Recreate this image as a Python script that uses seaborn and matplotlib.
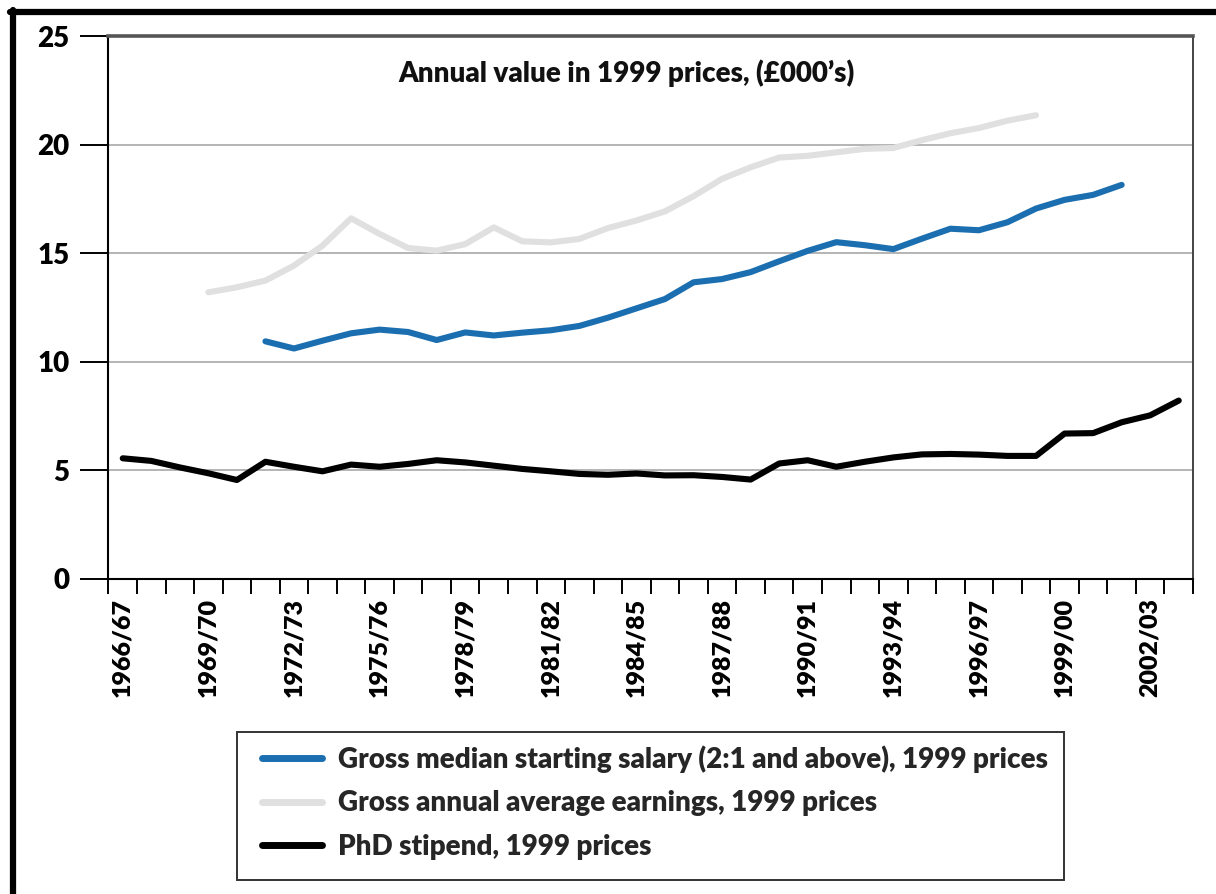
import numpy as np
import pandas as pd
import matplotlib
matplotlib.use("Agg")
import matplotlib.pyplot as plt
import seaborn as sns
from matplotlib.lines import Line2D
from matplotlib.patches import Rectangle

nan = np.nan

# academic years on the category axis
years = ["1966/67", "1967/68", "1968/69", "1969/70", "1970/71", "1971/72", "1972/73",
         "1973/74", "1974/75", "1975/76", "1976/77", "1977/78", "1978/79", "1979/80",
         "1980/81", "1981/82", "1982/83", "1983/84", "1984/85", "1985/86", "1986/87",
         "1987/88", "1988/89", "1989/90", "1990/91", "1991/92", "1992/93", "1993/94",
         "1994/95", "1995/96", "1996/97", "1997/98", "1998/99", "1999/00", "2000/01",
         "2001/02", "2002/03", "2003/04"]

# values in £000's, 1999 prices
salary = [nan, nan, nan, nan, nan, 10.93, 10.60, 10.96, 11.30, 11.47,
          11.36, 10.99, 11.34, 11.20, 11.33, 11.44, 11.64, 12.02, 12.45, 12.88,
          13.65, 13.80, 14.12, 14.62, 15.10, 15.50, 15.36, 15.18, 15.66, 16.12,
          16.05, 16.42, 17.05, 17.45, 17.68, 18.14, nan, nan]
earnings = [nan, nan, nan, 13.19, 13.42, 13.73, 14.42, 15.34, 16.60, 15.88,
            15.23, 15.11, 15.41, 16.18, 15.54, 15.49, 15.65, 16.15, 16.50, 16.92,
            17.62, 18.42, 18.95, 19.40, 19.48, 19.64, 19.80, 19.84, 20.20, 20.52,
            20.76, 21.10, 21.35, nan, nan, nan, nan, nan]
stipend = [5.54, 5.42, 5.12, 4.85, 4.54, 5.38, 5.15, 4.94, 5.25, 5.15,
           5.28, 5.45, 5.35, 5.20, 5.05, 4.94, 4.82, 4.78, 4.84, 4.75,
           4.76, 4.68, 4.56, 5.30, 5.45, 5.15, 5.38, 5.58, 5.72, 5.74,
           5.71, 5.65, 5.65, 6.68, 6.70, 7.20, 7.52, 8.20]

series_names = ["Gross median starting salary (2:1 and above), 1999 prices",
                "Gross annual average earnings, 1999 prices",
                "PhD stipend, 1999 prices"]
series_colors = ["#1b6fb0", "#e0e0e0", "#000000"]

y_ticks = [0, 5, 10, 15, 20, 25]
label_every = 3

# build a long table for seaborn
frames = []
for name, vals in zip(series_names, [salary, earnings, stipend]):
    frames.append(pd.DataFrame({"idx": np.arange(len(years)), "value": vals, "series": name}))
df = pd.concat(frames).dropna()

sns.set_theme(style="white")
plt.rcParams["font.family"] = ["Lato", "DejaVu Sans"]

fig = plt.figure(figsize=(12.16, 8.94), dpi=100)
ax = fig.add_axes([0.0892, 0.3529, 0.8919, 0.6068])

sns.lineplot(data=df, x="idx", y="value", hue="series", hue_order=series_names,
             palette=series_colors, linewidth=4.4, sort=False, ax=ax, legend=False)

ax.set_xlim(-0.5, len(years) - 0.5)
ax.set_ylim(0, 25)
ax.set_xlabel("")
ax.set_ylabel("")

# horizontal gridlines
for v in y_ticks[1:-1]:
    ax.axhline(v, color="#b4b4b4", linewidth=1.4, zorder=0)

# y axis
ax.set_yticks(y_ticks)
ax.set_yticklabels([str(v) for v in y_ticks], fontsize=20, fontweight="heavy", color="black")
ax.tick_params(axis="y", direction="out", length=20, width=1.4, color="black", pad=8, left=True)

# x axis: ticks on category boundaries, labels centred on every third year
ax.set_xticks(np.arange(-0.5, len(years), 1))
ax.set_xticklabels([])
ax.tick_params(axis="x", which="major", direction="out", length=10.8, width=1.4, color="black", bottom=True)
lab_pos = list(range(0, len(years), label_every))
ax.set_xticks(lab_pos, minor=True)
ax.set_xticklabels([years[i] for i in lab_pos], minor=True, rotation=90,
                   fontsize=18, fontweight="heavy", color="black")
ax.tick_params(axis="x", which="minor", length=0, pad=14)

for side in ["left", "bottom"]:
    ax.spines[side].set_color("black")
    ax.spines[side].set_linewidth(1.5)
ax.spines["top"].set_color("#555555")
ax.spines["top"].set_linewidth(2.6)
ax.spines["right"].set_color("#444444")
ax.spines["right"].set_linewidth(1.4)

fig.text(0.5156, 0.918, "Annual value in 1999 prices, (£000’s)", ha="center", va="center",
         fontsize=20, fontweight="heavy", color="#111111")

# legend below the chart, with its own frame
fig.add_artist(Rectangle((0.1949, 0.0157), 0.680, 0.1655, transform=fig.transFigure,
                         fill=False, edgecolor="#333333", linewidth=1.4))
handles = [Line2D([0], [0], color=c, linewidth=5) for c in series_colors]
leg = fig.legend(handles, series_names, loc="upper left",
                 bbox_to_anchor=(0.2155, 0.1665), frameon=False,
                 fontsize=20, handlelength=2.15, handletextpad=0.58,
                 labelspacing=0.63, borderpad=0, borderaxespad=0)
for t in leg.get_texts():
    t.set_fontweight("heavy")

# page frame: thick black line along the top and left edge
fig.add_artist(Line2D([0.0085, 1.0], [0.9865, 0.9865], color="black", linewidth=4.5,
                      transform=fig.transFigure))
fig.add_artist(Line2D([0.0105, 0.0105], [0.0, 0.989], color="black", linewidth=4.5,
                      transform=fig.transFigure))

fig.savefig("out.png", dpi=100)
